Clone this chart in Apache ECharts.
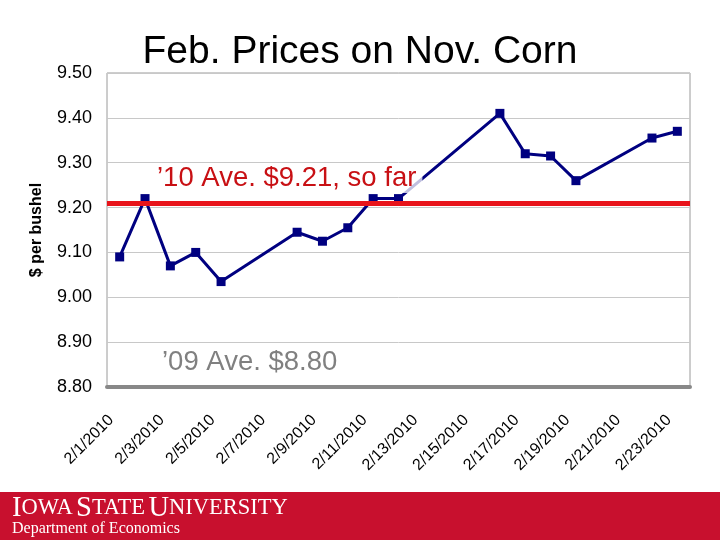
<!DOCTYPE html>
<html>
<head>
<meta charset="utf-8">
<script src="https://cdn.jsdelivr.net/npm/echarts@6/dist/echarts.min.js"></script>
<style>
  html, body { margin: 0; padding: 0; background: #fff; }
  #chart { width: 720px; height: 540px; }
</style>
</head>
<body>
<div id="chart"></div>
<script>
// every calendar day on the axis
const categories = [
  '2/1/2010', '2/2/2010', '2/3/2010', '2/4/2010', '2/5/2010', '2/6/2010', '2/7/2010', '2/8/2010',
  '2/9/2010', '2/10/2010', '2/11/2010', '2/12/2010', '2/13/2010', '2/14/2010', '2/15/2010', '2/16/2010',
  '2/17/2010', '2/18/2010', '2/19/2010', '2/20/2010', '2/21/2010', '2/22/2010', '2/23/2010'
];
// trading days and settle prices
const tradeDays = [
  '2/1/2010', '2/2/2010', '2/3/2010', '2/4/2010', '2/5/2010',
  '2/8/2010', '2/9/2010', '2/10/2010', '2/11/2010', '2/12/2010',
  '2/16/2010', '2/17/2010', '2/18/2010', '2/19/2010',
  '2/22/2010', '2/23/2010'
];
const prices = [
  9.09, 9.22, 9.07, 9.10, 9.035,
  9.145, 9.125, 9.155, 9.22, 9.22,
  9.41, 9.32, 9.315, 9.26,
  9.355, 9.37
];
const avg2010 = 9.21;
const avg2009 = 8.80;
const yTicks = [8.8, 9.5, 0.1]; // min, max, step

// null on days with no trading
const seriesData = categories.map(d => {
  const i = tradeDays.indexOf(d);
  return i >= 0 ? prices[i] : null;
});

const chart = echarts.init(document.getElementById('chart'));

chart.setOption({
  backgroundColor: '#fff',
  animation: false,
  title: {
    text: 'Feb. Prices on Nov. Corn',
    left: 'center',
    top: 28,
    textStyle: { fontFamily: 'Liberation Sans', fontSize: 39, fontWeight: 'normal', color: '#000' }
  },
  grid: {
    left: 107, right: 30, top: 73, bottom: 153,
    show: true, borderColor: '#9a9a9a', borderWidth: 1
  },
  xAxis: {
    type: 'category',
    data: categories,
    boundaryGap: true,
    axisLine: { lineStyle: { color: '#888', width: 4 } },
    axisTick: { interval: 1, length: 4, lineStyle: { color: '#888' } },
    axisLabel: {
      interval: 1, rotate: 45, margin: 22,
      padding: [0, 12, 0, 0],
      fontFamily: 'Liberation Sans', fontSize: 16, color: '#000'
    }
  },
  yAxis: {
    type: 'value',
    min: yTicks[0], max: yTicks[1], interval: yTicks[2],
    name: '$ per bushel',
    nameLocation: 'middle',
    nameGap: 62,
    nameTextStyle: { fontFamily: 'Liberation Sans', fontSize: 16, fontWeight: 'bold', color: '#000' },
    axisLine: { show: false },
    axisTick: { show: false },
    axisLabel: {
      margin: 15,
      fontFamily: 'Liberation Sans', fontSize: 18, color: '#000',
      formatter: v => v.toFixed(2)
    },
    splitLine: { lineStyle: { color: '#c8c8c8', width: 1 } }
  },
  series: [
    {
      type: 'line',
      data: seriesData,
      connectNulls: true,
      symbol: 'rect',
      symbolSize: 9,
      lineStyle: { color: '#000080', width: 3 },
      itemStyle: { color: '#000080' },
      markLine: {
        silent: true,
        symbol: 'none',
        data: [
          {
            yAxis: avg2010,
            lineStyle: { color: '#e8141b', width: 5, type: 'solid' },
            label: {
              formatter: '\u201910 Ave. $9.21, so far',
              position: 'insideStartTop',
              distance: [44, 10],
              padding: [1, 6],
              backgroundColor: 'rgba(255,255,255,0.75)',
              fontFamily: 'Liberation Sans', fontSize: 27.5, color: '#c81014'
            }
          },
          {
            yAxis: avg2009,
            lineStyle: { color: 'rgba(0,0,0,0)', width: 0 },
            label: {
              formatter: '\u201909 Ave. $8.80',
              position: 'insideStartTop',
              distance: [49, 10],
              padding: [1, 6],
              backgroundColor: 'rgba(255,255,255,0.85)',
              fontFamily: 'Liberation Sans', fontSize: 27.5, color: '#808080'
            }
          }
        ]
      }
    }
  ],
  graphic: [
    {
      type: 'rect',
      left: 0, top: 492,
      shape: { width: 720, height: 48 },
      style: { fill: '#c8102e' },
      silent: true
    },
    {
      type: 'text',
      left: 12, top: 494,
      style: {
        text: '{b|I}{s|OWA} {b|S}{s|TATE} {b|U}{s|NIVERSITY}',
        fill: '#fff',
        rich: {
          b: { fontFamily: 'Liberation Serif', fontSize: 28.5, fill: '#fff' },
          s: { fontFamily: 'Liberation Serif', fontSize: 22.5, fill: '#fff' }
        }
      }
    },
    {
      type: 'text',
      left: 12, top: 521,
      style: {
        text: 'Department of Economics',
        fill: '#fff',
        fontFamily: 'Liberation Serif', fontSize: 16
      }
    }
  ]
});
</script>
</body>
</html>
